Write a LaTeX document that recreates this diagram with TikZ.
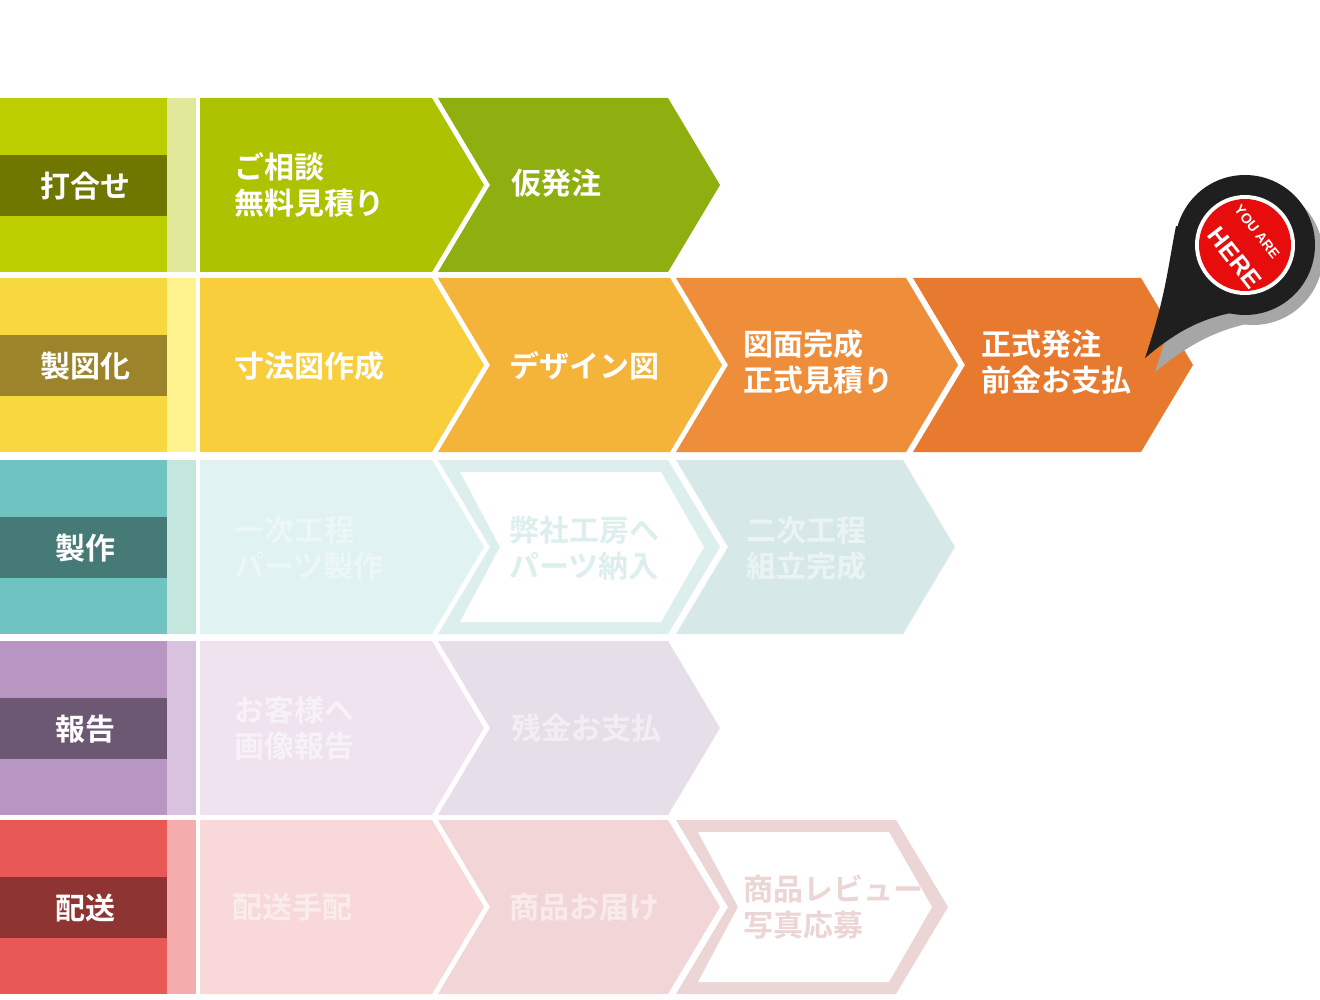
\documentclass[tikz,border=0pt]{standalone}
\usepackage{fontspec}
\newfontfamily\jp{Noto Sans CJK JP Bold}
\newfontfamily\sans{Liberation Sans}
\begin{document}
\begin{tikzpicture}[x=1pt,y=-1pt,
 lbl/.style={text=white,font=\jp\fontsize{30}{32}\selectfont,anchor=center},
 ctxt/.style={font=\jp\fontsize{30}{36}\selectfont,align=left,anchor=west}]
\useasboundingbox (0,0) rectangle (1320,1000);
\fill[white] (0,0) rectangle (1320,1000);
\def\d{52}
\newcommand\chev[5]{%
 \pgfmathsetmacro\ym{#3+87}\pgfmathsetmacro\yb{#3+174}%
 \ifnum#4=1
 \fill[#5] (#1,#3) -- (#2,#3) -- (#2+\d,\ym) -- (#2,\yb) -- (#1,\yb) -- (#1+\d,\ym) -- cycle;
 \else
 \fill[#5] (#1,#3) -- (#2,#3) -- (#2+\d,\ym) -- (#2,\yb) -- (#1,\yb) -- cycle;
 \fi}
\newcommand\chevo[4]{%
 \pgfmathsetmacro\ym{#3+87}\pgfmathsetmacro\yb{#3+174}%
 \fill[#4] (#1,#3) -- (#2,#3) -- (#2+\d,\ym) -- (#2,\yb) -- (#1,\yb) -- (#1+\d,\ym) -- cycle;
 \fill[white] (#1+22,#3+12) -- (#2-7,#3+12) -- (#2+\d-16,\ym) -- (#2-7,\yb-12) -- (#1+22,\yb-12) -- (#1+\d+10,\ym) -- cycle;}
\newcommand\lab[6]{%
 \fill[#2] (0,#1) rectangle (167,#1+174);
 \fill[#3] (0,#1+57) rectangle (167,#1+118);
 \fill[#4] (167,#1) rectangle (196,#1+174);
 \node[lbl] (#6) at (85,#1+88) {#5};}
% row 1
\definecolor{r1a}{HTML}{BCCD00}\definecolor{r1b}{HTML}{6F7700}\definecolor{r1c}{HTML}{E2E89A}
\lab{98}{r1a}{r1b}{r1c}{打合せ}{l1}
\definecolor{c1a}{HTML}{ADC200}\definecolor{c1b}{HTML}{8FAE10}
\chev{200}{432}{98}{0}{c1a}
\chev{438}{668}{98}{1}{c1b}
\node[ctxt,text=white] (a1) at (231,185) {ご相談\\無料見積り};
\node[ctxt,text=white] (a2) at (508,183) {仮発注};
% row 2
\definecolor{r2a}{HTML}{F8D840}\definecolor{r2b}{HTML}{9B8429}\definecolor{r2c}{HTML}{FFF38F}
\lab{278}{r2a}{r2b}{r2c}{製図化}{l2}
\definecolor{c2a}{HTML}{F8CE3D}\definecolor{c2b}{HTML}{F4B43A}\definecolor{c2c}{HTML}{EE8D3A}\definecolor{c2d}{HTML}{E87A2F}
\chev{200}{432}{278}{0}{c2a}
\chev{438}{670}{278}{1}{c2b}
\chev{676}{906}{278}{1}{c2c}
\chev{913}{1141}{278}{1}{c2d}
\node[ctxt,text=white] (b1) at (231,366) {寸法図作成};
\node[ctxt,text=white] (b2) at (506,366) {デザイン図};
\node[ctxt,text=white] (b3) at (740,362) {図面完成\\正式見積り};
\node[ctxt,text=white] (b4) at (978,362) {正式発注\\前金お支払};
% row 3
\definecolor{r3a}{HTML}{6FC4C1}\definecolor{r3b}{HTML}{457A76}\definecolor{r3c}{HTML}{C5E6DD}
\lab{460}{r3a}{r3b}{r3c}{製作}{l3}
\definecolor{c3a}{HTML}{E0F2F1}\definecolor{c3b}{HTML}{DDEFED}\definecolor{c3c}{HTML}{D6E9E8}
\chev{200}{432}{460}{0}{c3a}
\chevo{438}{668}{460}{c3b}
\chev{676}{903}{460}{1}{c3c}
\node[ctxt,text=c3a!60!white] (d1) at (231,548) {一次工程\\パーツ製作};
\node[ctxt,text=c3b] (d2) at (506,548) {弊社工房へ\\パーツ納入};
\node[ctxt,text=c3c!50!white] (d3) at (743,548) {二次工程\\組立完成};
% row 4
\definecolor{r4a}{HTML}{B896C2}\definecolor{r4b}{HTML}{6D5873}\definecolor{r4c}{HTML}{D9C2DD}
\lab{641}{r4a}{r4b}{r4c}{報告}{l4}
\definecolor{c4a}{HTML}{EFE3F0}\definecolor{c4b}{HTML}{E6DEE8}
\chev{200}{432}{641}{0}{c4a}
\chev{438}{668}{641}{1}{c4b}
\node[ctxt,text=c4a!50!white] (e1) at (231,728) {お客様へ\\画像報告};
\node[ctxt,text=c4b!50!white] (e2) at (508,728) {残金お支払};
% row 5
\definecolor{r5a}{HTML}{E85855}\definecolor{r5b}{HTML}{8E3433}\definecolor{r5c}{HTML}{F4ADAC}
\lab{820}{r5a}{r5b}{r5c}{配送}{l5}
\definecolor{c5a}{HTML}{F8D8D8}\definecolor{c5b}{HTML}{F2D6D7}\definecolor{c5c}{HTML}{ECD5D5}
\chev{200}{432}{820}{0}{c5a}
\chev{438}{668}{820}{1}{c5b}
\chevo{676}{896}{820}{c5c}
\node[ctxt,text=c5a!50!white] (f1) at (229,907) {配送手配};
\node[ctxt,text=c5b!50!white] (f2) at (506,907) {商品お届け};
\node[ctxt,text=c5c] (f3) at (740,907) {商品レビュー\\写真応募};
% pin shadow
\begin{scope}[shift={(8,10)}]
\fill[black!35] (1245,245) circle (70);
\fill[black!35] (1147,362) .. controls (1168,300) and (1170,270) .. (1178,228) -- (1245,245) -- (1238,314) .. controls (1205,322) and (1180,335) .. cycle;
\end{scope}
\fill[black!88] (1245,245) circle (70);
\fill[black!88] (1145,358) .. controls (1166,296) and (1168,266) .. (1176,226) -- (1245,245) -- (1236,312) .. controls (1203,318) and (1178,330) .. cycle;
\fill[white] (1245,245) circle (50);
\fill[red!90!black!95] (1245,245) circle (46);
\node[text=white,font=\sans\bfseries\fontsize{14}{14}\selectfont,rotate=-52] (you) at (1257,232) {YOU ARE};
\node[text=white,font=\sans\bfseries\fontsize{25}{25}\selectfont,rotate=-52] (here) at (1235,258) {HERE};
\end{tikzpicture}
\end{document}
